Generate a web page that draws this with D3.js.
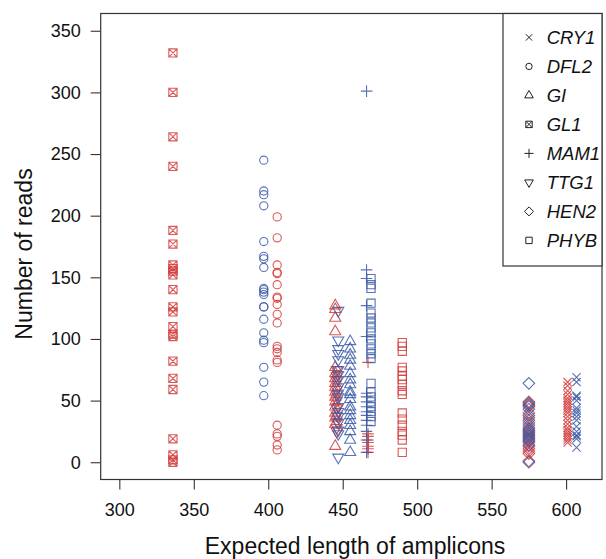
<!DOCTYPE html>
<html>
<head>
<meta charset="utf-8">
<script src="https://cdn.jsdelivr.net/npm/d3@7"></script>
<style>
  body { margin: 0; background: #fff; }
  svg { display: block; font-family: "Liberation Sans", Arial, sans-serif; }
</style>
</head>
<body>
<svg id="chart" width="606" height="559"></svg>
<script>
// gene names in legend order
const genes = ['CRY1', 'DFL2', 'GI', 'GL1', 'MAM1', 'TTG1', 'HEN2', 'PHYB'];

// expected amplicon length per gene, red and blue series
const lengthRed = [601, 406, 445, 336, 467, 446, 575, 490];
const lengthBlue = [607, 397, 455, null, 466, 447, 575, 469];

// number of reads, red series
const cry1Red = [65, 62, 58, 55, 52, 50, 48, 46, 44, 42, 40, 37, 34, 31, 28, 26, 24, 22, 20, 18, 16];
const dfl2Red = [199, 182, 160, 154, 153, 144, 134, 133, 128, 120, 113, 94, 92, 89, 83, 81, 30, 23, 21, 14, 10];
const giRed = [127, 124, 117, 106, 77, 72, 68, 64, 61, 57, 53, 49, 45, 40, 36, 31, 13];
const gl1Red = [332, 300, 264, 240, 188, 177, 160, 157, 155, 152, 140, 126, 122, 110, 104, 102, 82, 68, 59, 19, 6, 2, 0];
const mam1Red = [81, 23, 21, 18, 16, 13, 11, 8];
const ttg1Red = [75, 70, 66, 59, 55, 50, 44, 38, 33, 28, 25];
const hen2Red = [49, 47, 45, 40, 36, 32, 28, 26, 24, 22, 20, 18, 16, 13, 11, 9, 7, 1];
const phybRed = [97, 94, 90, 77, 74, 70, 67, 63, 58, 55, 40, 35, 30, 25, 22, 18, 8];

// number of reads, blue series
const cry1Blue = [69, 65, 54, 53, 50, 44, 42, 40, 37, 34, 29, 25, 22, 21, 19, 12];
const dfl2Blue = [245, 220, 217, 208, 179, 167, 165, 158, 141, 140, 138, 136, 126, 126, 116, 105, 99, 97, 77, 65, 54];
const giBlue = [98, 92, 87, 83, 78, 72, 67, 63, 57, 55, 51, 45, 42, 38, 34, 30, 25, 18, 8];
const gl1Blue = [];
const mam1Blue = [301, 156, 149, 127, 102, 56, 53, 49, 45, 41, 38, 34, 30, 25, 18, 8];
const ttg1Blue = [123, 99, 92, 88, 83, 75, 71, 67, 61, 56, 53, 45, 41, 37, 32, 26, 23, 4];
const hen2Blue = [64, 48, 46, 43, 38, 34, 30, 27, 25, 23, 21, 19, 17, 14, 0];
const phybBlue = [149, 144, 141, 129, 121, 117, 113, 109, 105, 100, 96, 92, 88, 84, 64, 57, 53, 49, 45, 41, 37, 33];

const readsRed = [cry1Red, dfl2Red, giRed, gl1Red, mam1Red, ttg1Red, hen2Red, phybRed];
const readsBlue = [cry1Blue, dfl2Blue, giBlue, gl1Blue, mam1Blue, ttg1Blue, hen2Blue, phybBlue];

const xTicks = [300, 350, 400, 450, 500, 550, 600];
const yTicks = [0, 50, 100, 150, 200, 250, 300, 350];

const red = '#d23c3c';
const blue = '#3b5aa6';

// R-like outline symbols, size = base radius in px
const sq = (c, r) => { c.moveTo(-r, -r); c.lineTo(r, -r); c.lineTo(r, r); c.lineTo(-r, r); c.closePath(); };
const tx = (c, r) => { c.moveTo(-r, -r); c.lineTo(r, r); c.moveTo(-r, r); c.lineTo(r, -r); };
const symbolTypes = {
    CRY1: { draw: (c, r) => tx(c, r) },
    DFL2: { draw: (c, r) => { c.moveTo(r, 0); c.arc(0, 0, r, 0, 2 * Math.PI); } },
    GI: { draw: (c, r) => { c.moveTo(0, -1.555 * r); c.lineTo(1.347 * r, 0.778 * r); c.lineTo(-1.347 * r, 0.778 * r); c.closePath(); } },
    GL1: { draw: (c, r) => { sq(c, r); tx(c, r); } },
    MAM1: { draw: (c, r) => { const s = r * Math.SQRT2; c.moveTo(-s, 0); c.lineTo(s, 0); c.moveTo(0, -s); c.lineTo(0, s); } },
    TTG1: { draw: (c, r) => { c.moveTo(0, 1.555 * r); c.lineTo(1.347 * r, -0.778 * r); c.lineTo(-1.347 * r, -0.778 * r); c.closePath(); } },
    HEN2: { draw: (c, r) => { const s = r * Math.SQRT2; c.moveTo(0, -s); c.lineTo(s, 0); c.lineTo(0, s); c.lineTo(-s, 0); c.closePath(); } },
    PHYB: { draw: (c, r) => sq(c, r) }
};

const points = [];
genes.forEach((g, i) => {
    readsRed[i].forEach((v) => points.push({ gene: g, len: lengthRed[i], reads: v, color: red }));
    readsBlue[i].forEach((v) => points.push({ gene: g, len: lengthBlue[i], reads: v, color: blue }));
});

const svg = d3.select('#chart');
const box = { left: 100.7, right: 602, top: 13.5, bottom: 479.5 };

const x = d3.scaleLinear().domain([287.5, 624.1]).range([box.left, box.right]);
const y = d3.scaleLinear().domain([-14, 364]).range([box.bottom, box.top]);

const axisColor = '#333';

const xAxis = svg.append('g')
    .attr('transform', `translate(0,${box.bottom})`)
    .call(d3.axisBottom(x).tickValues(xTicks).tickSize(10).tickPadding(14).tickFormat(d3.format('d')));
const yAxis = svg.append('g')
    .attr('transform', `translate(${box.left},0)`)
    .call(d3.axisLeft(y).tickValues(yTicks).tickSize(10).tickPadding(10).tickFormat(d3.format('d')));

[xAxis, yAxis].forEach((a) => {
    a.select('.domain').remove();
    a.selectAll('line').attr('stroke', axisColor).attr('stroke-width', 1.1);
    a.selectAll('text').attr('font-size', 18).attr('fill', '#111').attr('font-family', '"Liberation Sans", Arial, sans-serif');
});

svg.append('rect')
    .attr('x', box.left).attr('y', box.top)
    .attr('width', box.right - box.left).attr('height', box.bottom - box.top)
    .attr('fill', 'none').attr('stroke', axisColor).attr('stroke-width', 1.2);

svg.append('text')
    .attr('x', 355).attr('y', 554)
    .attr('text-anchor', 'middle').attr('font-size', 23).attr('fill', '#111')
    .text('Expected length of amplicons');

svg.append('text')
    .attr('transform', 'translate(32,254) rotate(-90)')
    .attr('text-anchor', 'middle').attr('font-size', 23).attr('fill', '#111')
    .text('Number of reads');

svg.append('g')
    .selectAll('path')
    .data(points)
    .join('path')
    .attr('transform', (d) => `translate(${x(d.len)},${y(d.reads)})`)
    .attr('d', (d) => d3.symbol().type(symbolTypes[d.gene]).size(4.1)())
    .attr('fill', 'none')
    .attr('stroke', (d) => d.color)
    .attr('stroke-opacity', 0.85)
    .attr('stroke-width', 1.1);

// legend, top right
const legend = svg.append('g');
legend.append('rect')
    .attr('x', 503).attr('y', box.top)
    .attr('width', box.right - 503).attr('height', 266 - box.top)
    .attr('fill', '#fff').attr('stroke', axisColor).attr('stroke-width', 1.2);

const rows = legend.selectAll('g.row')
    .data(genes)
    .join('g')
    .attr('class', 'row')
    .attr('transform', (d, i) => `translate(529,${37.4 + 29 * i})`);
rows.append('path')
    .attr('d', (d) => d3.symbol().type(symbolTypes[d]).size(3.2)())
    .attr('fill', 'none').attr('stroke', '#222').attr('stroke-width', 1);
rows.append('text')
    .attr('x', 17.7).attr('y', 6.6)
    .attr('font-size', 18.5).attr('font-style', 'italic').attr('fill', '#111')
    .text((d) => d);
</script>
</body>
</html>
